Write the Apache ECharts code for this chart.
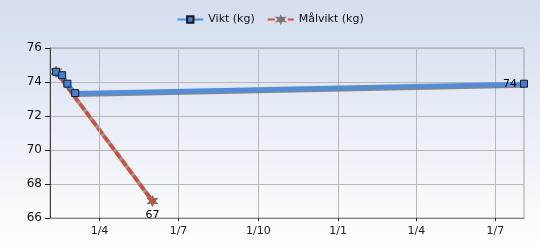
<!DOCTYPE html>
<html><head><meta charset="utf-8">
<script src="https://cdn.jsdelivr.net/npm/echarts@6/dist/echarts.min.js"></script>
<style>html,body{margin:0;padding:0;}#c{width:540px;height:250px;}</style>
</head><body><div id="c"></div>
<script>
// Data
var viktDates = ['2010-02-10', '2010-02-17', '2010-02-23', '2010-03-04', '2011-08-03'];
var viktValues = [74.6, 74.4, 73.9, 73.35, 73.9];
var malDates = ['2010-02-10', '2010-06-01'];
var malValues = [74.6, 67.0];
var xTickDates = ['2010-04-01', '2010-07-01', '2010-10-01', '2011-01-01', '2011-04-01', '2011-07-01'];
var xMinDate = '2010-02-03';
var xMaxDate = '2011-08-03';
var yTicks = [66, 68, 70, 72, 74, 76];

function ts(s) { var p = s.split('-'); return Date.UTC(+p[0], +p[1] - 1, +p[2]); }
function pairs(d, v) { return d.map(function (x, i) { return [ts(x), v[i]]; }); }
var tickTs = xTickDates.map(ts);

var chart = echarts.init(document.getElementById('c'), null, { renderer: 'canvas' });
var font = 'DejaVu Sans';
chart.setOption({
  animation: false,
  backgroundColor: new echarts.graphic.LinearGradient(0, 0, 0, 1, [
    { offset: 0, color: '#d3ddee' }, { offset: 1, color: '#ffffff' }
  ]),
  legend: {
    top: 9, left: 'center', itemWidth: 26, itemHeight: 8, itemGap: 12,
    textStyle: { fontFamily: font, fontSize: 11, color: '#111' },
    data: ['Vikt (kg)', 'Målvikt (kg)']
  },
  grid: { left: 50, right: 16, top: 48, bottom: 32, show: true, borderColor: '#a0a0a0', borderWidth: 1 },
  xAxis: {
    type: 'value', min: ts(xMinDate), max: ts(xMaxDate),
    axisLine: { lineStyle: { color: '#808080' } },
    axisTick: { show: true, length: 3, lineStyle: { color: '#202020' }, customValues: tickTs },
    axisLabel: {
      customValues: tickTs, fontFamily: font, fontSize: 11, color: '#222', margin: 8,
      formatter: function (v) { var d = new Date(v); return d.getUTCDate() + '/' + (d.getUTCMonth() + 1); }
    },
    splitLine: { show: false }
  },
  yAxis: {
    type: 'value', min: yTicks[0], max: yTicks[yTicks.length - 1], interval: 2,
    axisLine: { show: true, lineStyle: { color: '#404040' } },
    axisTick: { show: true, length: 5, lineStyle: { color: '#202020' } },
    axisLabel: { fontFamily: font, fontSize: 12, color: '#111', margin: 8 },
    splitLine: { show: true, lineStyle: { color: '#b8b8b8' } }
  },
  series: [
    {
      name: 'skugga', type: 'line', data: pairs(malDates, malValues), z: 3,
      symbol: 'none', silent: true, legendHoverLink: false, tooltip: { show: false },
      lineStyle: { color: '#8f9aa6', width: 4 }, itemStyle: { color: '#8f9aa6' },
      markLine: {
        silent: true, symbol: 'none', label: { show: false },
        lineStyle: { color: '#b8b8b8', type: 'solid', width: 1 },
        data: tickTs.map(function (t) { return { xAxis: t }; })
      }
    },
    {
      name: 'Målvikt (kg)', type: 'line', data: pairs(malDates, malValues), z: 4,
      symbol: 'path://M0,-10L2.5,-4L9,-5L4,0L9,5L2.5,4L0,10L-2.5,4L-9,5L-4,0L-9,-5L-2.5,-4Z', symbolSize: 11,
      lineStyle: { color: '#e0472c', width: 3.5, type: [7, 3] },
      itemStyle: { color: '#d84a30', borderColor: '#777', borderWidth: 1 },
      label: { show: true, position: 'bottom', distance: 3, fontFamily: font, fontSize: 11, color: '#000',
        formatter: function (p) { return p.dataIndex === malValues.length - 1 ? Math.round(p.value[1]) : ''; } }
    },
    {
      name: 'Vikt (kg)', type: 'line', data: pairs(viktDates, viktValues), z: 5,
      symbol: 'rect', symbolSize: 7,
      lineStyle: { color: '#4a8fe3', width: 4, shadowColor: 'rgba(90,90,90,0.7)', shadowOffsetY: 2, shadowOffsetX: 0, shadowBlur: 0 },
      itemStyle: { color: '#3f7fdc', borderColor: '#1a1a1a', borderWidth: 1 },
      label: { show: true, position: 'left', distance: 3, fontFamily: font, fontSize: 11, color: '#000',
        formatter: function (p) { return p.dataIndex === viktValues.length - 1 ? Math.round(p.value[1]) : ''; } }
    }
  ]
});
</script></body></html>
